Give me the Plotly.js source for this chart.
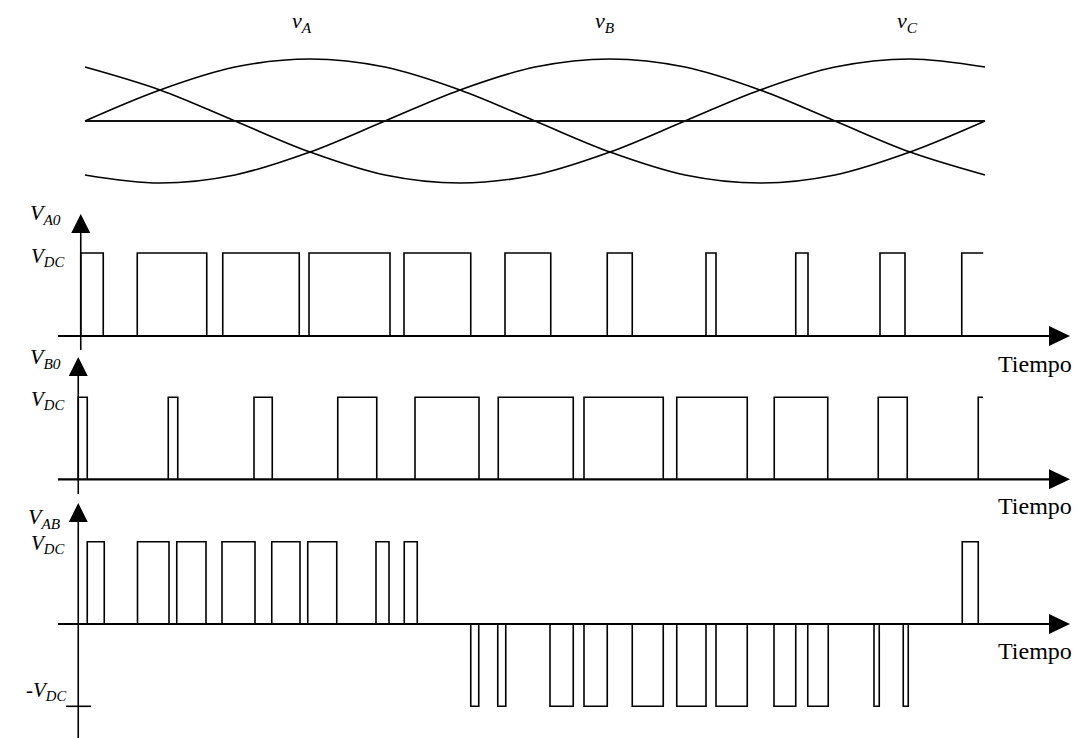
<!DOCTYPE html>
<html>
<head>
<meta charset="utf-8">
<script src="https://cdn.plot.ly/plotly-3.0.1.min.js"></script>
<style>
  html, body { margin: 0; padding: 0; background: #fff; }
  #chart { width: 1083px; height: 738px; }
</style>
</head>
<body>
<div id="chart"></div>
<script>
// time axis is the angle of the fundamental in degrees (0..360 = one period)

// reference sine waves, sampled every 30 degrees (per unit of peak)
const sineAngles = [0, 30, 60, 90, 120, 150, 180, 210, 240, 270, 300, 330, 360];
const vA = [0, 0.5, 0.87, 1, 0.87, 0.5, 0, -0.5, -0.87, -1, -0.87, -0.5, 0];
const vB = [-0.87, -1, -0.87, -0.5, 0, 0.5, 0.87, 1, 0.87, 0.5, 0, -0.5, -0.87];
const vC = [0.87, 0.5, 0, -0.5, -0.87, -1, -0.87, -0.5, 0, 0.5, 0.87, 1, 0.87];
const sineLabels = ['<i>v<sub>A</sub></i>', '<i>v<sub>B</sub></i>', '<i>v<sub>C</sub></i>'];

// switching intervals [on, off] in degrees
const pulsesA0 = [[-1.7, 7.3], [20.9, 48.7], [55.1, 85.7], [89.6, 122.0], [127.6, 154.3],
  [168.0, 186.3], [208.9, 218.9], [248.4, 252.4], [284.3, 289.2], [318.0, 328.0], [350.7, 359.3]];
const pulsesB0 = [[-2.7, 0.9], [33.3, 37.1], [67.6, 74.9], [101.1, 116.7], [132.0, 157.6],
  [165.3, 195.3], [199.6, 231.3], [236.7, 264.9], [275.7, 297.1], [317.3, 328.9], [357.3, 359.2]];
const pulsesABpos = [[0.9, 7.7], [21.0, 33.6], [36.7, 48.4], [54.8, 68.0], [74.7, 86.0],
  [89.1, 100.7], [116.4, 121.6], [127.7, 132.9], [350.9, 357.3]];
const pulsesABneg = [[154.3, 157.5], [165.1, 168.3], [186.0, 195.3], [199.6, 208.9], [218.9, 231.3],
  [236.7, 248.4], [252.4, 264.9], [275.6, 284.3], [289.1, 297.3], [315.6, 317.7], [327.3, 329.3]];

const W = 1083, H = 738;
const ink = '#000';
const serif = 'Liberation Serif, Times New Roman, serif';
const degAt = px => (px - 85) / 2.5;
const fy = px => 1 - px / H;

// pulse train as a step line; a pulse that reaches the end of the period stays high
function stepTrace(pulses, level, yaxis) {
    const x = [], y = [];
    pulses.forEach(([t0, t1]) => {
        x.push(t0, t0, t1);
        y.push(0, level, level);
        if (t1 < 359) { x.push(t1); y.push(0); }
        x.push(null); y.push(null);
    });
    return { x, y, yaxis, mode: 'lines', line: { color: ink, width: 1.6 }, hoverinfo: 'skip' };
}

function baseline(yaxis) {
    return { x: [degAt(58), degAt(1050)], y: [0, 0], yaxis, mode: 'lines',
        line: { color: ink, width: 2.2 }, hoverinfo: 'skip' };
}

function sineTrace(values) {
    return { x: sineAngles, y: values, yaxis: 'y', mode: 'lines',
        line: { color: ink, width: 1.6, shape: 'spline', smoothing: 1 }, hoverinfo: 'skip' };
}

const traces = [
    sineTrace(vA), sineTrace(vB), sineTrace(vC),
    { x: [0, 360], y: [0, 0], yaxis: 'y', mode: 'lines', line: { color: '#111', width: 2 }, hoverinfo: 'skip' },
    baseline('y2'), stepTrace(pulsesA0, 1, 'y2'),
    baseline('y3'), stepTrace(pulsesB0, 1, 'y3'),
    baseline('y4'), stepTrace(pulsesABpos, 1, 'y4'), stepTrace(pulsesABneg, -1, 'y4')
];

// panel band in pixels, with the pixel rows of value 0 and value 1
function band(topPx, botPx, zeroPx, onePx) {
    const k = zeroPx - onePx;
    return {
        domain: [fy(botPx), fy(topPx)],
        range: [(zeroPx - botPx) / k, (zeroPx - topPx) / k],
        visible: false, fixedrange: true, anchor: 'x'
    };
}

// vertical axis: x position (deg), arrow tip row, bottom row
const vAxes = [
    { x: -1.7, tip: 214, bottom: 350 },
    { x: -2.7, tip: 357, bottom: 494 },
    { x: -2.7, tip: 503, bottom: 738 }
];

const shapes = [];
vAxes.forEach(a => {
    shapes.push({ type: 'line', xref: 'x', yref: 'paper', x0: a.x, x1: a.x,
        y0: fy(a.bottom), y1: fy(a.tip + 18), line: { color: ink, width: 1.6 } });
    shapes.push({ type: 'path', xref: 'x', yref: 'paper', xsizemode: 'pixel', ysizemode: 'pixel',
        xanchor: a.x, yanchor: fy(a.tip), path: 'M0,0 L-9.5,-19 L9.5,-19 Z',
        fillcolor: ink, line: { width: 0 } });
});
['y2', 'y3', 'y4'].forEach(ya => {
    shapes.push({ type: 'path', xref: 'x', yref: ya, xsizemode: 'pixel', ysizemode: 'pixel',
        xanchor: degAt(1070), yanchor: 0, path: 'M0,0 L-21,10 L-21,-10 Z',
        fillcolor: ink, line: { width: 0 } });
});
// -VDC tick
shapes.push({ type: 'line', xref: 'x', yref: 'y4', x0: degAt(66), x1: degAt(91), y0: -1, y1: -1,
    line: { color: ink, width: 1.6 } });

function label(text, xPx, yPx, xanchor, size) {
    return { text, x: xPx / W, y: fy(yPx), xref: 'paper', yref: 'paper', xanchor, yanchor: 'middle',
        showarrow: false, font: { family: serif, size, color: ink } };
}

const annotations = [
    label(sineLabels[0], 302, 22, 'center', 22),
    label(sineLabels[1], 605, 22, 'center', 22),
    label(sineLabels[2], 907, 22, 'center', 22),
    label('<i>V<sub>A0</sub></i>', 63, 214, 'right', 22),
    label('<i>V<sub>DC</sub></i>', 66, 257, 'right', 21),
    label('<i>V<sub>B0</sub></i>', 63, 358, 'right', 22),
    label('<i>V<sub>DC</sub></i>', 66, 400, 'right', 21),
    label('<i>V<sub>AB</sub></i>', 63, 518, 'right', 22),
    label('<i>V<sub>DC</sub></i>', 66, 544, 'right', 21),
    label('-<i>V<sub>DC</sub></i>', 68, 691, 'right', 21),
    label('Tiempo', 996, 364, 'left', 24),
    label('Tiempo', 996, 506, 'left', 24),
    label('Tiempo', 996, 651, 'left', 24)
];

const layout = {
    width: W, height: H,
    margin: { l: 0, r: 0, t: 0, b: 0 },
    paper_bgcolor: '#fff', plot_bgcolor: '#fff',
    showlegend: false,
    xaxis: { range: [degAt(0), degAt(W)], visible: false, fixedrange: true, anchor: 'y4' },
    yaxis: band(0, 200, 121, 59),
    yaxis2: band(200, 355, 336, 253),
    yaxis3: band(355, 500, 479.3, 397.3),
    yaxis4: band(500, 738, 624, 541.7),
    shapes, annotations
};

Plotly.newPlot('chart', traces, layout, { staticPlot: true, displayModeBar: false });
</script>
</body>
</html>
